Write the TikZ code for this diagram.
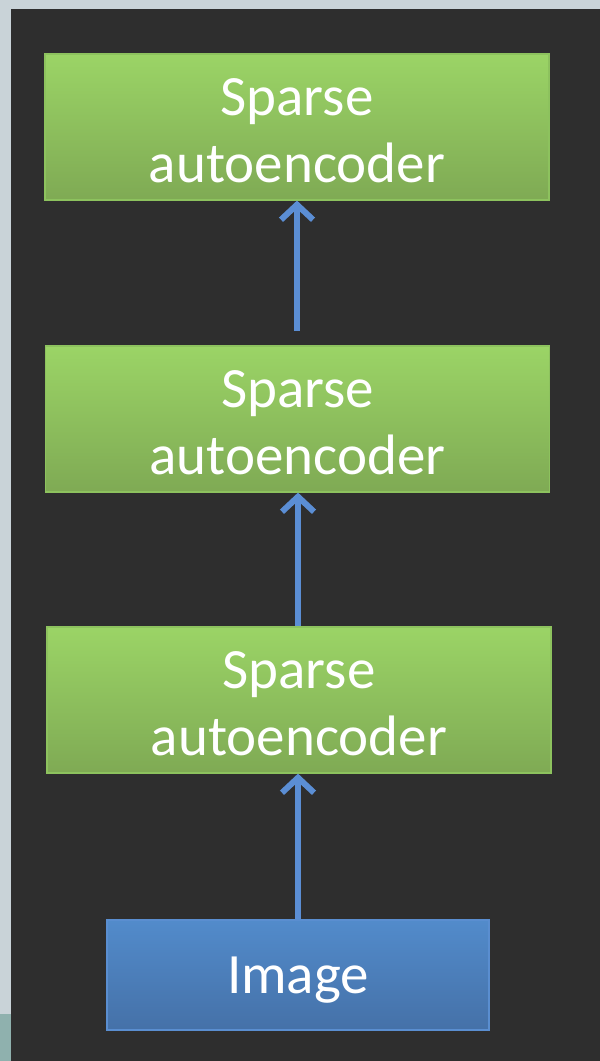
\documentclass[tikz,border=0pt]{standalone}
\usepackage{fontspec}
\setmainfont{Carlito}
\usetikzlibrary{arrows.meta}
\definecolor{panel}{HTML}{2E2E2E}
\definecolor{frame}{HTML}{C9D3D8}
\definecolor{teal}{HTML}{8FB1AE}
\definecolor{greentop}{HTML}{9BD466}
\definecolor{greenbot}{HTML}{7FAA54}
\definecolor{greenline}{HTML}{8DC25E}
\definecolor{bluetop}{HTML}{528BCB}
\definecolor{bluebot}{HTML}{4571A8}
\definecolor{blueline}{HTML}{5A8ED0}
\definecolor{arrowblue}{HTML}{5B8ED4}
\tikzset{
  x=1pt, y=-1pt,
  layer/.style={draw=greenline, line width=1.2pt, top color=greentop, bottom color=greenbot,
    minimum width=504pt, minimum height=146pt, inner sep=0pt},
  input/.style={draw=blueline, line width=1.2pt, top color=bluetop, bottom color=bluebot,
    minimum width=382pt, minimum height=110pt, inner sep=0pt},
  caption/.style={text=white, align=center, inner sep=0pt,
    font=\fontsize{57}{67}\selectfont},
  flow/.style={draw=arrowblue, line width=6pt,
    -{Straight Barb[length=15pt, width=32pt, line width=6pt]}}
}
\begin{document}
\begin{tikzpicture}
% page frame and dark panel
\fill[frame] (0,0) rectangle (600,1061);
\fill[teal] (0,1014) rectangle (11,1061);
\fill[panel] (11,9) rectangle (600,1061);
\useasboundingbox (0,0) rectangle (600,1061);

% stacked layers
\node[layer] (sa1) at (297,127) {};
\node[layer] (sa2) at (297.5,419) {};
\node[layer] (sa3) at (299,700) {};
\node[input] (img) at (298,975) {};

\node[caption] (sa1text) at ([yshift=-4pt]sa1.center) {Sparse\\autoencoder};
\node[caption] (sa2text) at ([yshift=-4pt]sa2.center) {Sparse\\autoencoder};
\node[caption] (sa3text) at ([yshift=-4pt]sa3.center) {Sparse\\autoencoder};
\node[caption] (imgtext) at ([yshift=-5pt]img.center) {Image};

% connectors
\coordinate (t1) at (297,331);
\draw[flow] (t1) -- (297,0 |- sa1.south);
\draw[flow] (298,0 |- sa3.north) -- (298,0 |- sa2.south);
\draw[flow] (298,0 |- img.north) -- (298,0 |- sa3.south);
\end{tikzpicture}
\end{document}
